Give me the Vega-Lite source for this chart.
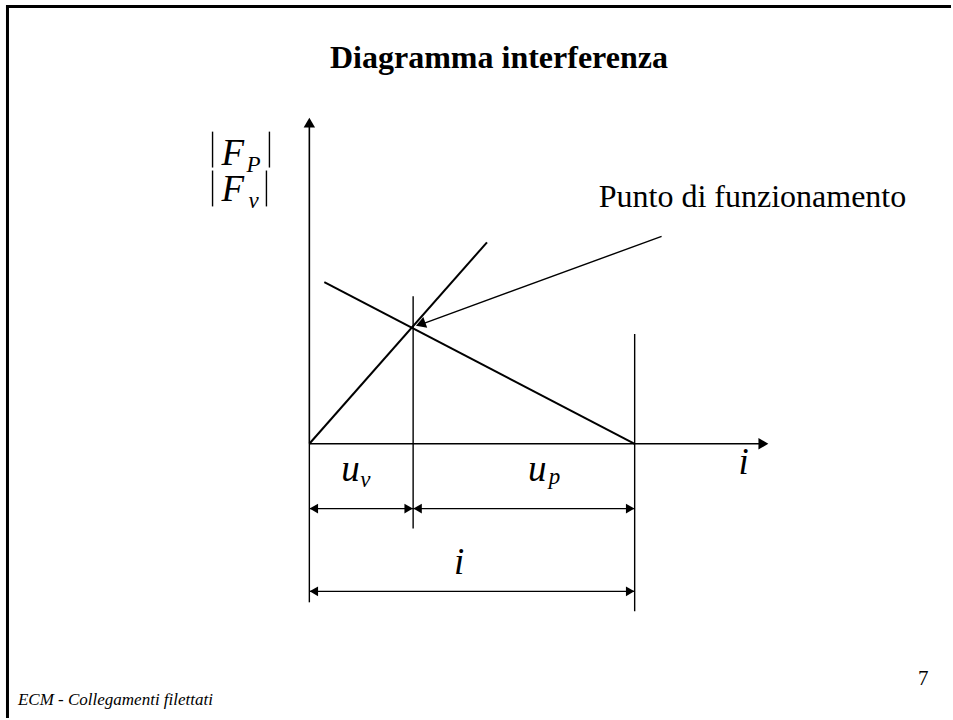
{
  "$schema": "https://vega.github.io/schema/vega-lite/v6.json",
  "width": 953,
  "height": 720,
  "autosize": {"type": "fit", "contains": "padding"},
  "padding": 0,
  "background": "white",
  "view": {"stroke": null},
  "config": {"text": {"font": "Liberation Serif", "color": "black"}},
  "datasets": {
    "border": [
      {"x": -304, "y": 438.5, "x2": 643, "y2": 438.5},
      {"x": -302.5, "y": 440, "x2": -302.5, "y2": -275}
    ],
    "axes": [
      {"x": 0, "y": 0, "x2": 0, "y2": 318},
      {"x": 0, "y": 0, "x2": 451, "y2": 0}
    ],
    "curves": [
      {"x": 0, "y": 0, "x2": 178, "y2": 202},
      {"x": 15, "y": 162, "x2": 326, "y2": 0}
    ],
    "thin": [
      {"x": 104, "y": 148, "x2": 104, "y2": -85},
      {"x": 326, "y": 110, "x2": 326, "y2": -168},
      {"x": 0, "y": 0, "x2": 0, "y2": -159},
      {"x": 353, "y": 208, "x2": 110, "y2": 119},
      {"x": 0, "y": -65, "x2": 104, "y2": -65},
      {"x": 104, "y": -65, "x2": 326, "y2": -65},
      {"x": 0, "y": -148, "x2": 326, "y2": -148},
      {"x": -97, "y": 313, "x2": -97, "y2": 277},
      {"x": -97, "y": 274, "x2": -97, "y2": 238},
      {"x": -40, "y": 313, "x2": -40, "y2": 277},
      {"x": -43, "y": 274, "x2": -43, "y2": 238}
    ],
    "arrowUp": [{"x": 0, "y": 322}],
    "arrowRight": [
      {"x": 455, "y": 0}
    ],
    "dimRight": [
      {"x": 99.5, "y": -65},
      {"x": 321.5, "y": -65},
      {"x": 321.5, "y": -148}
    ],
    "dimLeft": [
      {"x": 4.5, "y": -65},
      {"x": 108.5, "y": -65},
      {"x": 4.5, "y": -148}
    ],
    "pointer": [{"x": 111.5, "y": 120}],
    "title": [{"x": 190, "y": 377, "label": "Diagramma interferenza"}],
    "note": [{"x": 290, "y": 237, "label": "Punto di funzionamento"}],
    "symbols": [
      {"x": 32, "y": -37, "label": "u"},
      {"x": 219, "y": -37, "label": "u"},
      {"x": 145, "y": -131, "label": "i"},
      {"x": 430, "y": -30, "label": "i"},
      {"x": -88, "y": 280, "label": "F"},
      {"x": -88, "y": 243, "label": "F"}
    ],
    "subs": [
      {"x": 51, "y": -43, "label": "v"},
      {"x": 240, "y": -40, "label": "p"},
      {"x": -63, "y": 273, "label": "P"},
      {"x": -61, "y": 236, "label": "v"}
    ],
    "footer": [{"x": -292, "y": -262, "label": "ECM - Collegamenti filettati"}],
    "page": [{"x": 610, "y": -242, "label": "7"}]
  },
  "encoding": {
    "x": {"field": "x", "type": "quantitative", "axis": null, "scale": {"domain": [-310, 643], "nice": false, "zero": false}},
    "y": {"field": "y", "type": "quantitative", "axis": null, "scale": {"domain": [-275, 445], "nice": false, "zero": false}}
  },
  "layer": [
    {"data": {"name": "border"}, "mark": {"type": "rule", "color": "black", "strokeWidth": 3}, "encoding": {"x2": {"field": "x2"}, "y2": {"field": "y2"}}},
    {"data": {"name": "axes"}, "mark": {"type": "rule", "color": "black", "strokeWidth": 1.6}, "encoding": {"x2": {"field": "x2"}, "y2": {"field": "y2"}}},
    {"data": {"name": "curves"}, "mark": {"type": "rule", "color": "black", "strokeWidth": 2}, "encoding": {"x2": {"field": "x2"}, "y2": {"field": "y2"}}},
    {"data": {"name": "thin"}, "mark": {"type": "rule", "color": "black", "strokeWidth": 1.4}, "encoding": {"x2": {"field": "x2"}, "y2": {"field": "y2"}}},
    {"data": {"name": "arrowUp"}, "mark": {"type": "point", "shape": "triangle-up", "filled": true, "color": "black", "size": 130, "opacity": 1}},
    {"data": {"name": "arrowRight"}, "mark": {"type": "point", "shape": "triangle-right", "filled": true, "color": "black", "size": 130, "opacity": 1}},
    {"data": {"name": "dimRight"}, "mark": {"type": "point", "shape": "triangle-right", "filled": true, "color": "black", "size": 95, "opacity": 1}},
    {"data": {"name": "dimLeft"}, "mark": {"type": "point", "shape": "triangle-left", "filled": true, "color": "black", "size": 95, "opacity": 1}},
    {"data": {"name": "pointer"}, "mark": {"type": "point", "shape": "triangle-right", "filled": true, "color": "black", "size": 130, "angle": 160, "opacity": 1}},
    {"data": {"name": "title"}, "mark": {"type": "text", "fontSize": 32, "fontWeight": "bold", "align": "center", "baseline": "alphabetic"}, "encoding": {"text": {"field": "label"}}},
    {"data": {"name": "note"}, "mark": {"type": "text", "fontSize": 32, "align": "left", "baseline": "alphabetic"}, "encoding": {"text": {"field": "label"}}},
    {"data": {"name": "symbols"}, "mark": {"type": "text", "fontSize": 37, "fontStyle": "italic", "align": "left", "baseline": "alphabetic"}, "encoding": {"text": {"field": "label"}}},
    {"data": {"name": "subs"}, "mark": {"type": "text", "fontSize": 23, "fontStyle": "italic", "align": "left", "baseline": "alphabetic"}, "encoding": {"text": {"field": "label"}}},
    {"data": {"name": "footer"}, "mark": {"type": "text", "fontSize": 17, "fontStyle": "italic", "align": "left", "baseline": "alphabetic"}, "encoding": {"text": {"field": "label"}}},
    {"data": {"name": "page"}, "mark": {"type": "text", "fontSize": 21, "align": "left", "baseline": "alphabetic"}, "encoding": {"text": {"field": "label"}}}
  ]
}
